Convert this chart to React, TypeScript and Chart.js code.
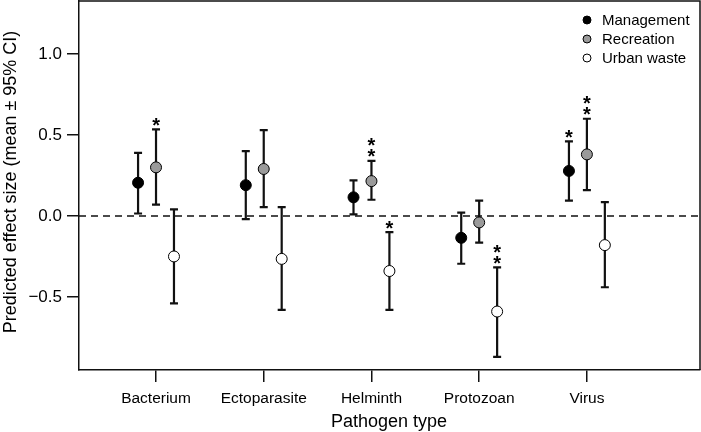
import React, { useEffect, useRef } from "react";
import { Chart, registerables } from "chart.js";

Chart.register(...registerables);

const categories = ["Bacterium", "Ectoparasite", "Helminth", "Protozoan", "Virus"];
const seriesNames = ["Management", "Recreation", "Urban waste"];

const mgmtMean = [0.205, 0.19, 0.115, -0.135, 0.278];
const mgmtLow = [0.015, -0.02, 0.01, -0.295, 0.095];
const mgmtHigh = [0.39, 0.4, 0.22, 0.02, 0.46];

const recMean = [0.3, 0.29, 0.215, -0.04, 0.38];
const recLow = [0.07, 0.055, 0.1, -0.165, 0.16];
const recHigh = [0.535, 0.53, 0.34, 0.095, 0.6];

const urbMean = [-0.25, -0.265, -0.34, -0.59, -0.18];
const urbLow = [-0.54, -0.58, -0.58, -0.87, -0.44];
const urbHigh = [0.04, 0.055, -0.1, -0.317, 0.085];

const mgmtStars = [0, 0, 0, 0, 1];
const recStars = [1, 0, 2, 0, 2];
const urbStars = [0, 0, 1, 2, 0];

const yTicks = [-0.5, 0, 0.5, 1.0];

const FONT = '"Liberation Sans", Arial, Helvetica, sans-serif';
const INK = "#111111";

const groups = [
  { name: seriesNames[0], mean: mgmtMean, low: mgmtLow, high: mgmtHigh, stars: mgmtStars, fill: "#000000", offset: -1 / 6 },
  { name: seriesNames[1], mean: recMean, low: recLow, high: recHigh, stars: recStars, fill: "#9a9a9a", offset: 0 },
  { name: seriesNames[2], mean: urbMean, low: urbLow, high: urbHigh, stars: urbStars, fill: "#ffffff", offset: 1 / 6 },
];

const decorPlugin = {
  id: "decor",
  beforeDatasetsDraw(chart: any) {
    const { ctx, chartArea, scales } = chart;
    const xs = scales.x;
    const ys = scales.y;
    ctx.save();
    ctx.strokeStyle = INK;
    ctx.lineWidth = 1.5;
    ctx.setLineDash([7, 5]);
    const y0 = ys.getPixelForValue(0);
    ctx.beginPath();
    ctx.moveTo(chartArea.left, y0);
    ctx.lineTo(chartArea.right, y0);
    ctx.stroke();
    ctx.setLineDash([]);
    ctx.lineWidth = 2.2;
    groups.forEach((g) => {
      categories.forEach((_, i) => {
        const x = xs.getPixelForValue(i + 1 + g.offset);
        const yl = ys.getPixelForValue(g.low[i]);
        const yh = ys.getPixelForValue(g.high[i]);
        ctx.beginPath();
        ctx.moveTo(x, yl);
        ctx.lineTo(x, yh);
        ctx.moveTo(x - 4, yl);
        ctx.lineTo(x + 4, yl);
        ctx.moveTo(x - 4, yh);
        ctx.lineTo(x + 4, yh);
        ctx.stroke();
      });
    });
    ctx.restore();
  },
  afterDatasetsDraw(chart: any) {
    const { ctx, chartArea, scales } = chart;
    const xs = scales.x;
    const ys = scales.y;
    ctx.save();
    ctx.strokeStyle = INK;
    ctx.lineWidth = 1.5;
    ctx.beginPath();
    ctx.moveTo(chartArea.left, chartArea.top);
    ctx.lineTo(chartArea.right, chartArea.top);
    ctx.lineTo(chartArea.right, chartArea.bottom);
    ctx.stroke();
    ctx.fillStyle = "#000";
    ctx.font = `bold 20px ${FONT}`;
    ctx.textAlign = "center";
    ctx.textBaseline = "alphabetic";
    groups.forEach((g) => {
      categories.forEach((_, i) => {
        const n = g.stars[i];
        if (!n) return;
        const x = xs.getPixelForValue(i + 1 + g.offset);
        const yh = ys.getPixelForValue(g.high[i]);
        for (let k = 0; k < n; k++) {
          const cy = yh - 9 - k * 11;
          ctx.fillText("*", x, cy + 11.5);
        }
      });
    });
    ctx.font = `15px ${FONT}`;
    ctx.textAlign = "left";
    ctx.textBaseline = "middle";
    groups.forEach((g, k) => {
      const ly = 20 + k * 19;
      ctx.beginPath();
      ctx.arc(587, ly, 4, 0, Math.PI * 2);
      ctx.fillStyle = g.fill;
      ctx.fill();
      ctx.lineWidth = 1;
      ctx.strokeStyle = "#000";
      ctx.stroke();
      ctx.fillStyle = "#000";
      ctx.fillText(g.name, 602, ly + 1);
    });
    ctx.font = `18px ${FONT}`;
    ctx.textAlign = "center";
    ctx.textBaseline = "middle";
    ctx.fillText("Pathogen type", 389, 422);
    ctx.save();
    ctx.translate(11, 182);
    ctx.rotate(-Math.PI / 2);
    ctx.font = `18px ${FONT}`;
    ctx.fillText("Predicted effect size (mean ± 95% CI)", 0, 0);
    ctx.restore();
    ctx.restore();
  },
};

export default function App() {
  const ref = useRef<HTMLCanvasElement | null>(null);
  useEffect(() => {
    if (!ref.current) return;
    const chart = new Chart(ref.current, {
      type: "scatter",
      data: {
        datasets: groups.map((g) => ({
          label: g.name,
          data: g.mean.map((v, i) => ({ x: i + 1 + g.offset, y: v })),
          backgroundColor: g.fill,
          borderColor: "#000",
          borderWidth: 1,
          pointRadius: 5.5,
          pointHoverRadius: 5.5,
        })),
      },
      options: {
        animation: false,
        responsive: false,
        devicePixelRatio: 1,
        layout: { autoPadding: false, padding: { top: 1, right: 1, left: 0, bottom: 0 } },
        plugins: { legend: { display: false }, tooltip: { enabled: false } },
        scales: {
          x: {
            type: "linear",
            min: 0.285,
            max: 6.05,
            afterBuildTicks: (s: any) => {
              s.ticks = categories.map((_, i) => ({ value: i + 1 }));
            },
            afterFit: (s: any) => {
              s.height = 62;
              s.paddingLeft = 0;
              s.paddingRight = 0;
            },
            ticks: {
              autoSkip: false,
              maxRotation: 0,
              padding: 7,
              color: "#000",
              font: { family: FONT, size: 15.5 },
              callback: (v: any) => categories[Math.round(v) - 1] ?? "",
            },
            grid: { drawOnChartArea: false, drawTicks: true, tickLength: 12, color: INK, lineWidth: 1.5 },
            border: { display: true, color: INK, width: 1.5 },
          },
          y: {
            type: "linear",
            min: -0.951,
            max: 1.327,
            afterBuildTicks: (s: any) => {
              s.ticks = yTicks.map((v) => ({ value: v }));
            },
            afterFit: (s: any) => {
              s.width = 79;
              s.paddingTop = 0;
              s.paddingBottom = 0;
            },
            ticks: {
              padding: 5,
              color: "#000",
              font: { family: FONT, size: 17 },
              callback: (v: any) => {
                const n = Number(v);
                const s = Math.abs(n).toFixed(1);
                return n < 0 ? "\u2212" + s : s;
              },
            },
            grid: { drawOnChartArea: false, drawTicks: true, tickLength: 12, color: INK, lineWidth: 1.5 },
            border: { display: true, color: INK, width: 1.5 },
          },
        },
      },
      plugins: [decorPlugin],
    } as any);
    return () => chart.destroy();
  }, []);
  return (
    <div style={{ position: "fixed", left: 0, top: 0, width: 701, height: 432, background: "#fff" }}>
      <canvas ref={ref} width={701} height={432} style={{ display: "block", width: 701, height: 432 }} />
    </div>
  );
}
